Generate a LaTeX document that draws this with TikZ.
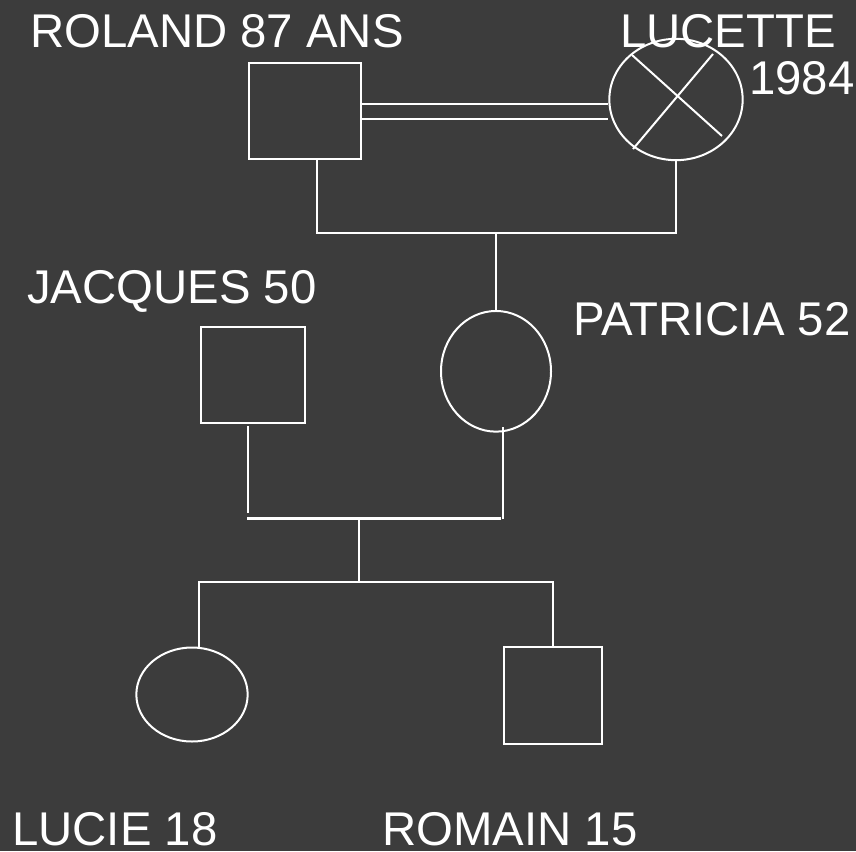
\documentclass[tikz,border=0pt]{standalone}
\usepackage{fontspec}
\setmainfont{Liberation Sans}
\definecolor{bgdark}{RGB}{60,60,60}
\usetikzlibrary{shapes.geometric,calc}

\begin{document}
\begin{tikzpicture}[x=0.75pt,y=0.75pt,yscale=-1,xscale=1,
	pedline/.style={color=white,line width=1.5},
	male/.style={draw=white,line width=1.5,rectangle,inner sep=0pt},
	female/.style={draw=white,line width=1.5,ellipse,inner sep=0pt},
	lbl/.style={color=white,anchor=base west,inner sep=0pt,font=\fontsize{35.5}{42}\selectfont}]
	%set diagram to 856 x 851
	\useasboundingbox (0,0) rectangle (856,851);
	\fill [bgdark] (0,0) rectangle (856,851);
	
	%Shapes: persons
	\node (roland) [male,minimum width=84pt,minimum height=72pt] at (305,111) {};
	\node (lucette) [female,minimum width=100pt,minimum height=91pt] at (676,99.5) {};
	\node (jacques) [male,minimum width=78pt,minimum height=72pt] at (253,375) {};
	\node (patricia) [female,minimum width=82.5pt,minimum height=90.5pt] at (496,371.3) {};
	\node (lucie) [female,minimum width=83.5pt,minimum height=70.5pt] at (192,694.5) {};
	\node (romain) [male,minimum width=73.5pt,minimum height=72.75pt] at (553,695.5) {};
	
	%Cross: deceased
	\draw [pedline] (632,55) -- (722,136) ;
	\draw [pedline] (713,54) -- (633,149) ;
	
	%Straight Lines: couple
	\draw [pedline] ([yshift=6pt]roland.east) -- ([yshift=6pt]roland.east -| lucette.west) ;
	\draw [pedline] ([yshift=-5.25pt]roland.east) -- ([yshift=-5.25pt]roland.east -| lucette.west) ;
	
	%Straight Lines: first generation
	\coordinate (rl) at (317,233);
	\coordinate (pj) at (496,233);
	\draw [pedline] (roland.south -| rl) -- (rl) -- (lucette.south |- rl) -- (lucette.south) ;
	\draw [pedline] (pj) -- (patricia.north) ;
	
	%Straight Lines: second generation
	\coordinate (jq) at (248,513);
	\coordinate (pt) at (503,519);
	\coordinate (cj) at (359,518);
	\draw [pedline] ([yshift=1.5pt]jacques.south -| jq) -- (jq) ;
	\draw [pedline] ([yshift=-4pt]patricia.south -| pt) -- (pt) ;
	\draw [pedline,line width=2.25] (247,518) -- (501,518) ;
	
	%Straight Lines: children
	\coordinate (sl) at (199,582);
	\coordinate (sr) at (553,582);
	\draw [pedline] (cj) -- (cj |- sl) ;
	\draw [pedline] (lucie.north -| sl) -- (sl) -- (sr) -- (romain.north) ;
	
	% Text Node
	\draw (30,47) node (tRoland) [lbl] {ROLAND 87 ANS};
	% Text Node
	\draw (620,47) node (tLucette) [lbl] {LUCETTE};
	% Text Node
	\draw (749,94) node (tDeces) [lbl] {1984};
	% Text Node
	\draw (27,303) node (tJacques) [lbl] {JACQUES 50};
	% Text Node
	\draw (573,335) node (tPatricia) [lbl] {PATRICIA 52};
	% Text Node
	\draw (12,845) node (tLucie) [lbl] {LUCIE 18};
	% Text Node
	\draw (382,845) node (tRomain) [lbl] {ROMAIN 15};
	
\end{tikzpicture}
\end{document}
